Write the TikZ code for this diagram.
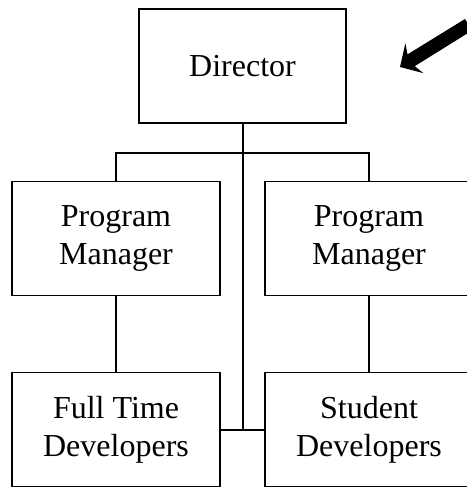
\documentclass[tikz,border=0pt]{standalone}
\usepackage{fontspec}
\setmainfont{Liberation Serif}
\begin{document}
\begin{tikzpicture}[x=1pt,y=-1pt,
  box/.style={draw, line width=1.3pt, rectangle, inner sep=0pt, outer sep=0pt,
    minimum width=208pt, minimum height=113.5pt, align=center,
    font=\fontsize{32}{38}\selectfont},
  conn/.style={line width=1.3pt}]
\useasboundingbox (0,0) rectangle (466,487);
\node[box, minimum width=207pt, minimum height=114pt] (dir) at (242.5,66) {Director};
\node[box] (pml) at (116,238.5) {Program\\Manager};
\node[box] (pmr) at (369,238.5) {Program\\Manager};
\node[box] (ftd) at (116,429.5) {Full Time\\Developers};
\node[box] (std) at (369,429.5) {Student\\Developers};
\coordinate (bar) at (243,153);
\coordinate (junc) at (243,430);
\draw[conn] (dir.south -| bar) -- (junc);
\draw[conn] (pml.north) |- (bar) -| (pmr.north);
\draw[conn] (pml.south) -- (ftd.north);
\draw[conn] (pmr.south) -- (std.north);
\draw[conn] (ftd.east |- junc) -- (std.west |- junc);
\fill (400,67) -- (405.4,43.2) -- (407.5,54.4) -- (465,19) -- (472,30.5) -- (414.7,66.2) -- (423.6,73.2) -- cycle;
\end{tikzpicture}
\end{document}
